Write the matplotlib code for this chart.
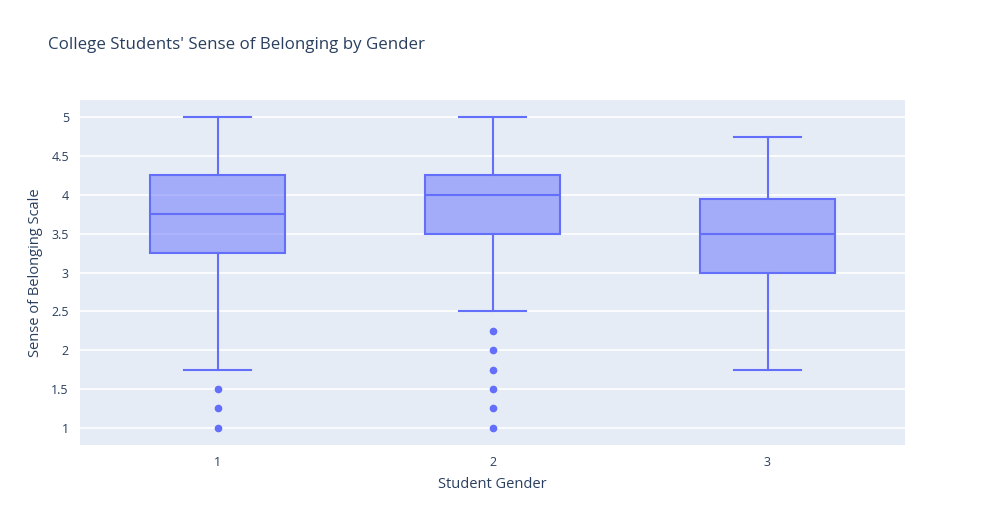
import matplotlib
matplotlib.use("Agg")
import matplotlib.pyplot as plt

plt.rcParams['font.family'] = ['Open Sans', 'DejaVu Sans']

categories = ["1", "2", "3"]
whislo = [1.75, 2.5, 1.75]
q1 = [3.25, 3.5, 3.0]
med = [3.75, 4.0, 3.5]
q3 = [4.25, 4.25, 3.94]
whishi = [5.0, 5.0, 4.75]
outliers = [[1.5, 1.25, 1.0], [2.25, 2.0, 1.75, 1.5, 1.25, 1.0], []]
yticks = [1, 1.5, 2, 2.5, 3, 3.5, 4, 4.5, 5]

color = "#636efa"
text_color = "#2a3f5f"
bg = "#E5ECF6"

fig = plt.figure(figsize=(9.85, 5.25), dpi=100)
ax = fig.add_axes([80/985, 80/525, 825/985, 345/525])
ax.set_facecolor(bg)

stats = []
for i, c in enumerate(categories):
    stats.append(dict(label=c, whislo=whislo[i], q1=q1[i], med=med[i],
                      q3=q3[i], whishi=whishi[i], fliers=outliers[i]))

lw = 1.5
positions = list(range(1, len(categories) + 1))
ax.bxp(stats, positions=positions, widths=0.49, patch_artist=True,
       showfliers=True, capwidths=0.245,
       boxprops=dict(facecolor=(0.388, 0.431, 0.980, 0.5), edgecolor=color, linewidth=lw),
       medianprops=dict(color=color, linewidth=lw),
       whiskerprops=dict(color=color, linewidth=lw),
       capprops=dict(color=color, linewidth=lw),
       flierprops=dict(marker='o', markerfacecolor=color, markeredgecolor=color,
                       markersize=4.5, linestyle='none'),
       zorder=3)

ax.set_xlim(0.5, 3.5)
ax.set_ylim(0.78, 5.22)
ax.set_xticks(positions)
ax.set_xticklabels(categories)
ax.set_yticks(yticks)
ax.set_yticklabels([f"{t:g}" for t in yticks])
ax.grid(axis='y', color='white', linewidth=1.2, zorder=0)
ax.set_axisbelow(True)
for s in ax.spines.values():
    s.set_visible(False)
ax.tick_params(axis='both', length=0, colors=text_color, labelsize=9)
ax.tick_params(axis='x', pad=8)
ax.tick_params(axis='y', pad=8)

ax.set_xlabel("Student Gender", color=text_color, fontsize=10.5, labelpad=6)
ax.set_ylabel("Sense of Belonging Scale", color=text_color, fontsize=10.5, labelpad=6)

fig.text(48/985, 1 - 45/525, "College Students' Sense of Belonging by Gender",
         color=text_color, fontsize=12.2, va='center', ha='left')

fig.savefig("out.png", dpi=100, facecolor='white')
